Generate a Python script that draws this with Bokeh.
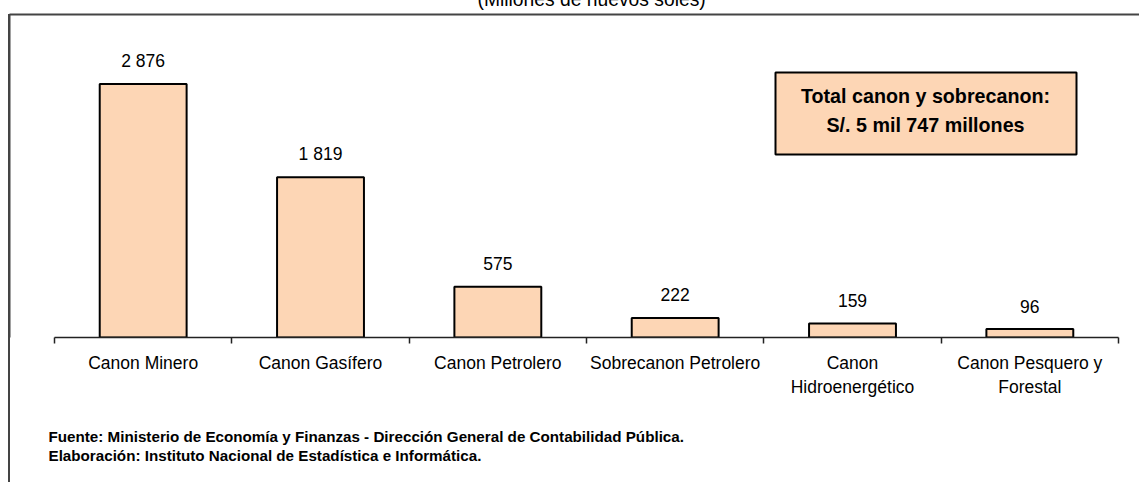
from bokeh.plotting import figure
from bokeh.models import (Range1d, LinearAxis, FixedTicker, Title,
                          Label, BoxAnnotation, ColumnDataSource)
from bokeh.core.properties import value
from bokeh.embed import file_html
from bokeh.resources import INLINE

# ---- data ----
categories = ["Canon Minero", "Canon Gasífero", "Canon Petrolero", "Sobrecanon Petrolero",
              "Canon\nHidroenergético", "Canon Pesquero y\nForestal"]
values = [2876, 1819, 575, 222, 159, 96]
value_labels = ["2 876", "1 819", "575", "222", "159", "96"]
title_text = "(Millones de nuevos soles)"
box_lines = ["Total canon y sobrecanon:", "S/. 5 mil 747 millones"]
footer_lines = ["Fuente: Ministerio de Economía y Finanzas - Dirección General de Contabilidad Pública.",
                "Elaboración: Instituto Nacional de Estadística e Informática."]

FONT = "Liberation Sans"
BAR = "#FDD6B5"
BORDER = "#444444"
T = 30  # canvas starts this many px above the window (title is cut like in the source)
B = 30  # canvas extends this many px below the window

n = len(categories)
centers = [i + 0.5 for i in range(n)]          # category slot centres
src = ColumnDataSource(dict(x=centers, val=values, lbl=value_labels))

x_start, x_end = -0.2538, n + 0.1184
y_end = 3665

p = figure(width=1139, height=482 + T + B,
           x_range=Range1d(x_start, x_end), y_range=Range1d(0, y_end),
           x_axis_location=None, y_axis_location=None,
           output_backend="svg", toolbar_location=None,
           min_border_left=9, min_border_right=0, min_border_top=14 + T,
           min_border_bottom=145 + B,
           background_fill_color=None, border_fill_color=None,
           outline_line_color=None,
           styles={"margin-top": f"-{T}px",
                   "margin-bottom": f"-{B}px",
                   "background-color": "white",
                   "background-image": f"linear-gradient({BORDER}, {BORDER})",
                   "background-repeat": "no-repeat",
                   "background-position": f"8px {14 + T}px",
                   "background-size": "2px 100%"})
p.title.visible = False
p.grid.visible = False

# frame lines (top and left) drawn as bare axes
top_axis = LinearAxis(ticker=FixedTicker(ticks=[]), bounds=(x_start, x_end + 2),
                      major_tick_in=0, major_tick_out=0, minor_tick_in=0, minor_tick_out=0,
                      major_label_standoff=0, major_label_text_font_size="0px",
                      axis_line_color=BORDER, axis_line_width=2)
left_axis = LinearAxis(ticker=FixedTicker(ticks=[]), bounds=(-4000, y_end),
                       major_tick_in=0, major_tick_out=0, minor_tick_in=0, minor_tick_out=0,
                       major_label_standoff=0, major_label_text_font_size="0px",
                       axis_line_color=BORDER, axis_line_width=2)
p.add_layout(top_axis, "above")
p.add_layout(left_axis, "left")

p.add_layout(Title(text=title_text, align="left", offset=468, standoff=10,
                   text_font=FONT, text_font_size="19.3px", text_font_style="normal",
                   text_color="black"), "above")

edge_axis = LinearAxis(ticker=FixedTicker(ticks=list(range(n + 1))), bounds=(0, n),
                       major_tick_in=0, major_tick_out=6,
                       minor_tick_line_color=None,
                       major_label_text_font_size="0px", major_label_standoff=0,
                       axis_line_color="#222222", axis_line_width=1.5,
                       major_tick_line_color="#222222", major_tick_line_width=1.5)
cat_axis = LinearAxis(ticker=FixedTicker(ticks=centers),
                      major_tick_line_color=None, minor_tick_line_color=None,
                      axis_line_color=None, major_label_standoff=3,
                      major_label_text_font=FONT, major_label_text_font_size="17.5px",
                      major_label_text_color="black",
                      major_label_overrides=dict(zip(centers, categories)))
p.add_layout(edge_axis, "below")
p.add_layout(cat_axis, "below")

# footer as a two-line title below the axes
p.add_layout(Title(text="\n".join(footer_lines), align="left", offset=39, standoff=52,
                   text_line_height=1.15,
                   text_font=FONT, text_font_size="15.2px", text_font_style="bold",
                   text_color="black"), "below")

p.vbar(x="x", top="val", width=0.49, source=src,
       fill_color=BAR, line_color="black", line_width=2)
p.text(x="x", y="val", text="lbl", source=src, text_align="center",
       text_baseline="middle", y_offset=-23,
       text_font=value(FONT), text_font_size="17.5px", text_color="black")

# total box
p.add_layout(BoxAnnotation(left=766, right=1067, bottom=183, top=265,
                           left_units="screen", right_units="screen",
                           top_units="screen", bottom_units="screen",
                           fill_color=BAR, fill_alpha=1, line_color="black",
                           line_alpha=1, line_width=2))
for i, t in enumerate(box_lines):
    p.add_layout(Label(x=916, y=242 - 29 * i, x_units="screen", y_units="screen", text=t,
                       text_align="center", text_baseline="middle",
                       text_font=FONT, text_font_size="19.7px", text_font_style="bold",
                       text_color="black"))

open("out.html", "w").write(file_html(p, INLINE))
